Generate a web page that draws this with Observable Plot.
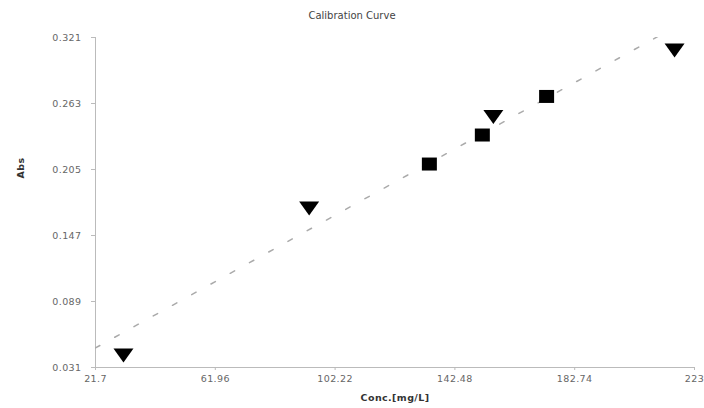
<!DOCTYPE html>
<html>
<head>
<meta charset="utf-8">
<script src="https://cdn.jsdelivr.net/npm/d3@7"></script>
<script src="https://cdn.jsdelivr.net/npm/@observablehq/plot@0.6"></script>
<style>
  html, body { margin: 0; padding: 0; background: #fff; }
  #wrap { position: relative; width: 704px; height: 408px; }
  #title { position: absolute; top: 10px; left: 0; width: 704px; text-align: center;
           font: 10px "DejaVu Sans", sans-serif; color: #444; }
  svg text { letter-spacing: 0.4px; }
</style>
</head>
<body>
<div id="wrap"><div id="title">Calibration Curve</div></div>
<script>
// Triangles (down) series
const triConc = [31.1, 93.5, 155.4, 216.3];
const triAbs  = [0.0415, 0.1707, 0.2511, 0.3096];
// Squares series
const sqConc = [133.9, 151.7, 173.3];
const sqAbs  = [0.2098, 0.2353, 0.2692];
// Trend line
const trendConc = [21.7, 223];
const trendAbs  = [0.0482, 0.3397];
// Ticks
const xTicks = [21.7, 61.96, 102.22, 142.48, 182.74, 223];
const xTickLabels = ["21.7", "61.96", "102.22", "142.48", "182.74", "223"];
const yTicks = [0.031, 0.089, 0.147, 0.205, 0.263, 0.321];
const yTickLabels = ["0.031", "0.089", "0.147", "0.205", "0.263", "0.321"];

const triDown = { draw(ctx) { ctx.moveTo(-10, -7); ctx.lineTo(10, -7); ctx.lineTo(0, 7); ctx.closePath(); } };
const squareSym = { draw(ctx) { ctx.moveTo(-7.5, -6.5); ctx.lineTo(7.5, -6.5); ctx.lineTo(7.5, 6.5); ctx.lineTo(-7.5, 6.5); ctx.closePath(); } };

const tri = triConc.map((c, i) => ({conc: c, abs: triAbs[i]}));
const sq = sqConc.map((c, i) => ({conc: c, abs: sqAbs[i]}));
const trend = trendConc.map((c, i) => ({conc: c, abs: trendAbs[i]}));

const xf = d => xTickLabels[xTicks.indexOf(d)];
const yf = d => yTickLabels[yTicks.indexOf(d)];

const chart = Plot.plot({
  width: 704, height: 408,
  marginLeft: 95, marginRight: 10, marginTop: 37, marginBottom: 41,
  style: { fontFamily: "DejaVu Sans, sans-serif", background: "#fff" },
  x: { domain: [21.7, 223] },
  y: { domain: [0.031, 0.321] },
  marks: [
    Plot.ruleX([21.7], { stroke: "#bbb", strokeWidth: 1 }),
    Plot.ruleY([0.031], { stroke: "#bbb", strokeWidth: 1 }),
    Plot.axisX({ ticks: xTicks, tickFormat: xf, tickSize: 3, tickPadding: 5, stroke: "#bbb", color: "#666", fontSize: 9.5, label: null }),
    Plot.axisY({ ticks: yTicks, tickFormat: yf, tickSize: 4, tickPadding: 10, stroke: "#bbb", color: "#666", fontSize: 9.5, label: null }),
    Plot.line(trend, { x: "conc", y: "abs", stroke: "#aaa", strokeWidth: 1.5, strokeDasharray: "5,17", clip: true }),
    Plot.dot(tri, { x: "conc", y: "abs", symbol: triDown, fill: "#000", stroke: "none" }),
    Plot.dot(sq, { x: "conc", y: "abs", symbol: squareSym, fill: "#000", stroke: "none" }),
    Plot.text(["Conc.[mg/L]"], { frameAnchor: "bottom", dy: 33, fontSize: 9.5, fontWeight: "bold", fill: "#333" }),
    Plot.text(["Abs"], { frameAnchor: "left", rotate: -90, dx: -75, dy: -24, fontSize: 9.5, fontWeight: "bold", fill: "#333" })
  ]
});
document.getElementById("wrap").insertBefore(chart, document.getElementById("title"));
chart.style.position = "absolute"; chart.style.top = "0"; chart.style.left = "0";
</script>
</body>
</html>
